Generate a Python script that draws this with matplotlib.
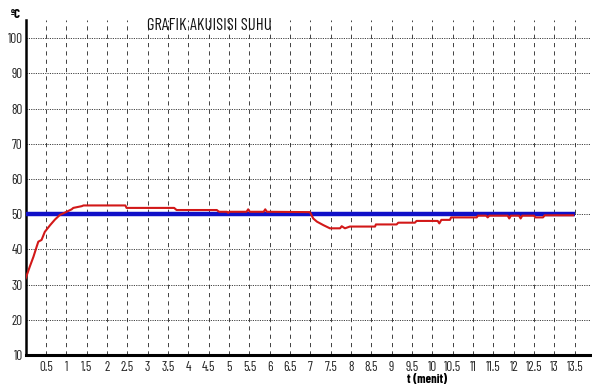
import matplotlib
matplotlib.use("Agg")
import matplotlib.pyplot as plt
import numpy as np

# ---- data ----
time_min = [0.0, 0.1, 0.19, 0.27, 0.31, 0.39, 0.47, 0.6, 0.72, 0.84, 0.97, 1.13, 1.17, 1.38, 1.42,
            2.45, 2.48, 3.65, 3.71, 4.7, 4.73, 4.76, 4.8, 4.95, 4.98, 5.01, 5.43, 5.47, 5.51,
            5.85, 5.89, 5.93, 6.99, 7.07, 7.16, 7.32, 7.48, 7.73, 7.77, 7.85, 7.97, 8.59, 8.61,
            9.12, 9.16, 9.57, 9.61, 10.13, 10.17, 10.22, 10.43, 10.46, 11.09, 11.12, 11.32,
            11.36, 11.4, 11.85, 11.89, 11.93, 12.13, 12.17, 12.21, 12.5, 12.53, 12.72, 12.76, 13.46]
temp_c = [31.8, 35.1, 37.9, 40.8, 42.2, 42.7, 45.0, 46.9, 48.5, 49.8, 50.5, 51.4, 51.8, 52.3, 52.5,
          52.5, 51.8, 51.8, 51.2, 51.2, 50.9, 50.7, 50.7, 50.7, 50.4, 50.7, 50.7, 51.4, 50.7,
          50.7, 51.4, 50.7, 50.6, 48.8, 47.9, 46.9, 46.0, 46.0, 46.6, 46.0, 46.5, 46.5, 47.1,
          47.1, 47.6, 47.6, 48.1, 48.1, 47.4, 48.4, 48.4, 49.1, 49.1, 49.6, 49.6,
          49.1, 49.6, 49.6, 48.8, 49.6, 49.6, 48.8, 49.6, 49.6, 49.1, 49.1, 49.7, 49.7]
setpoint = 50
setpoint_span = [0.0, 13.5]

x_ticks = [0.5, 1, 1.5, 2, 2.5, 3, 3.5, 4, 4.5, 5, 5.5, 6, 6.5, 7, 7.5, 8, 8.5, 9, 9.5,
           10, 10.5, 11, 11.5, 12, 12.5, 13, 13.5]
x_tick_labels = ["0.5", "1", "1.5", "2", "2.5", "3", "3.5", "4", "4.5", "5", "5.5", "6", "6.5",
                 "7", "7.5", "8", "8.5", "9", "9.5", "10", "10.5", "11", "11.5", "12", "12.5",
                 "13", "13.5"]
y_ticks = [10, 20, 30, 40, 50, 60, 70, 80, 90, 100]
y_tick_labels = [str(v) for v in y_ticks]

title = "GRAFIK AKUISISI SUHU"
unit_label = "ºC"
x_label = "t (menit)"

FONT = ["Barlow Condensed", "Archivo Narrow", "DejaVu Sans"]
plt.rcParams["font.family"] = FONT

fig = plt.figure(figsize=(5.92, 3.85), dpi=100)
fig.patch.set_facecolor("white")
ax = fig.add_axes([25.7 / 592, 30 / 385, (590 - 25.7) / 592, 335 / 385])

ax.set_xlim(0, 13.875)
ax.set_ylim(10, 105.2)

# grid
for yv in y_ticks[1:]:
    ax.axhline(yv, color="#222222", lw=0.6, ls=(0, (1.4, 1.4)), zorder=1)
for xv in x_ticks:
    ax.axvline(xv, color="#222222", lw=0.6, ls=(0, (5, 5)), zorder=1)

# setpoint and measured temperature
ax.plot(setpoint_span, [setpoint, setpoint], color="#1010c8", lw=3.2, solid_capstyle="butt", zorder=3)
ax.plot(time_min, temp_c, color="#d21818", lw=1.5, zorder=4)

ax.set_xticks(x_ticks)
ax.set_xticklabels(x_tick_labels)
ax.set_yticks(y_ticks)
ax.set_yticklabels(y_tick_labels)
ax.tick_params(axis="both", length=0, labelsize=9.5, colors="#222222")
ax.tick_params(axis="x", pad=4)
ax.tick_params(axis="y", pad=2)

for s in ["top", "right"]:
    ax.spines[s].set_visible(False)
ax.spines["left"].set_linewidth(1.8)
ax.spines["bottom"].set_linewidth(2.2)

fig.text(209.5 / 592, (385 - 25) / 385, title, ha="center", va="center", fontsize=12, color="#111111")
fig.text(16 / 592, (385 - 14) / 385, unit_label, ha="center", va="center", fontsize=9.5, fontweight="bold")
fig.text(427 / 592, (385 - 379) / 385, x_label, ha="center", va="center", fontsize=9, fontweight="bold")

fig.savefig("out.png", dpi=100)
